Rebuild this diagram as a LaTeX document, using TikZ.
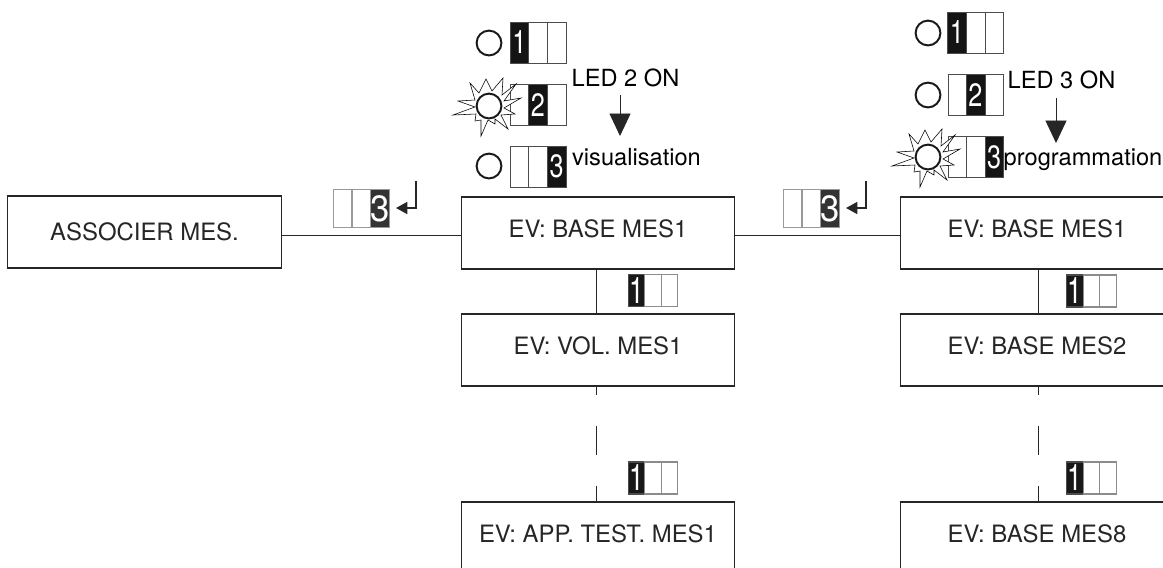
\documentclass[tikz,border=0pt]{standalone}
\usepackage{fontspec}
\setmainfont{TeX Gyre Heros}
\usepackage{tikz}
\usetikzlibrary{arrows.meta, calc}

% one row of three cells: name, y, centres, cell width, lit cell
\newcommand{\swcells}[7]{%
  \foreach \i/\cx in {1/#3,2/#4,3/#5} {
    \ifnum\i=#7
      \node (#1\i) [oncell, minimum width=#6] at (\cx, #2) {\scalebox{\digitx}[1]{\i}};
    \else
      \node (#1\i) [offcell, minimum width=#6] at (\cx, #2) {};
    \fi
  }%
}
\def\digitx{0.78}

\begin{document}
\begin{tikzpicture}[
  x=0.025cm, y=-0.025cm,
  line/.style={draw, black!85, line width=0.7pt},
  arrow/.style={line, -{Triangle[length=16pt, width=15pt]}},
  enter/.style={line, line width=1.1pt, -{Triangle[length=8pt, width=8.5pt]}},
  block/.style={draw, black!85, line width=0.8pt, rectangle, minimum width=6.83cm, minimum height=1.8cm, font=\fontsize{17}{20}\selectfont},
  lifted/.style={text depth=5.7pt},
  led/.style={draw, circle, line width=1.4pt, black!90, fill=white, minimum size=0.62cm, inner sep=0pt},
  offcell/.style={draw=black!70, fill=white, line width=0.5pt, minimum height=1.03cm, inner sep=0pt},
  oncell/.style={offcell, fill=black!92, text=white, font=\fontsize{23}{23}\selectfont},
  note/.style={anchor=base, font=\fontsize{16.8}{20}\selectfont, inner sep=0pt},
  enterkey/.style={offcell/.append style={draw=black!40, line width=0.9pt, minimum height=0.95cm}, oncell/.append style={fill=black!80, font=\fontsize{26}{26}\selectfont}},
  scrollkey/.style={offcell/.append style={draw=black!45, line width=0.8pt, minimum height=0.8cm}, oncell/.append style={draw=black!70, fill=black!90, font=\fontsize{26}{26}\selectfont}},
  burst/.pic={
    \draw[fill=white, line width=0.4pt] (-19,-23) -- (-10,-13) -- (-3,-27) -- (3,-15) -- (14,-28) -- (13,-11)
      -- (27,-22) -- (15,-5) -- (32,-8) -- (15,2) -- (26,8) -- (12,9) -- (19,23) -- (6,13) -- (6,18) -- (-1,14)
      -- (-8,30) -- (-8,14) -- (-14,15) -- (-13,8) -- (-36,9) -- (-14,1) -- (-31,-5) -- (-14,-6) -- cycle;
  }
]
  \useasboundingbox (0,0) rectangle (1163,567);

  % Menu boxes
  \node (assoc) [block] at (144.5, 232) {ASSOCIER MES.};
  \node (base) [block, lifted] at (598, 233) {EV: BASE MES1};
  \node (vol) [block, lifted] at (598, 350) {EV: VOL. MES1};
  \node (app) [block, lifted] at (598, 538) {EV: APP. TEST. MES1};
  \node (prog1) [block, lifted] at (1037, 233) {EV: BASE MES1};
  \node (prog2) [block, lifted] at (1037, 350) {EV: BASE MES2};
  \node (prog8) [block, lifted] at (1037, 538) {EV: BASE MES8};

  % Horizontal links
  \coordinate (linky) at (0, 235);
  \draw[line] (assoc.east |- linky) -- (base.west |- linky);
  \draw[line] (base.east |- linky) -- (prog1.west |- linky);

  % Vertical links, broken between the boxes
  \foreach \col/\a/\b/\c/\xx in {m/base/vol/app/596, r/prog1/prog2/prog8/1038} {
    \coordinate (\col g1) at (\xx, 395);
    \coordinate (\col g2) at (\xx, 426);
    \coordinate (\col g3) at (\xx, 455);
    \coordinate (\col g4) at (\xx, 486);
    \draw[line] (\a.south -| \col g1) -- (\b.north -| \col g1);
    \draw[line] (\b.south -| \col g1) -- (\col g1);
    \draw[line] (\col g2) -- (\col g3);
    \draw[line] (\col g4) -- (\c.north -| \col g4);
  }

  % Left panel
  \swcells{pa}{42.5}{519.3}{538}{556.7}{0.467cm}{1}
  \swcells{pb}{105}{520}{538}{556.7}{0.467cm}{2}
  \swcells{pc}{166.5}{519.3}{538}{556.7}{0.467cm}{3}
  \pic at (489, 106) {burst};
  \node (ledA) [led] at (489, 43) {};
  \node (ledB) [led] at (489, 106) {};
  \node (ledC) [led] at (489, 166) {};
  \node (ledtwo) [note] at (625.5, 86) {LED 2 ON};
  \node (vis) [note] at (636.5, 165) {visualisation};
  \coordinate (arrA) at (620, 95);
  \coordinate (arrB) at (620, 136);
  \draw[arrow] (arrA) -- (arrB);

  % Right panel
  \swcells{qa}{32.5}{956.8}{975.5}{994.2}{0.467cm}{1}
  \swcells{qb}{95}{957.5}{975.5}{994.2}{0.467cm}{2}
  \swcells{qc}{157}{957.5}{975.5}{994.2}{0.467cm}{3}
  \pic at (928, 157) {burst};
  \node (ledD) [led] at (928, 33) {};
  \node (ledE) [led] at (928, 95) {};
  \node (ledF) [led] at (928, 157) {};
  \node (ledthree) [note] at (1061.5, 88) {LED 3 ON};
  \node (progtxt) [note] at (1083, 165) {programmation};
  \coordinate (arrC) at (1056, 98);
  \coordinate (arrD) at (1056, 143);
  \draw[arrow] (arrC) -- (arrD);

  % Enter keys
  \begin{scope}[enterkey]
    \def\digitx{0.95}
    \swcells{ea}{208.5}{343}{361.5}{380}{0.47cm}{3}
    \swcells{eb}{208.5}{793}{811.5}{830}{0.47cm}{3}
  \end{scope}
  \coordinate (entA) at (416, 181);
  \coordinate (tipA) at (396, 208);
  \coordinate (entB) at (866, 181);
  \coordinate (tipB) at (846, 208);
  \draw[enter] (entA) |- (tipA);
  \draw[enter] (entB) |- (tipB);

  % Scroll keys
  \begin{scope}[scrollkey]
    \def\digitx{0.72}
    \swcells{ka}{290.5}{636.5}{653}{669.5}{0.41cm}{1}
    \swcells{kb}{478}{636.5}{653}{669.5}{0.41cm}{1}
    \swcells{kc}{291}{1075}{1091.5}{1108}{0.41cm}{1}
    \swcells{kd}{478}{1075}{1091.5}{1108}{0.41cm}{1}
  \end{scope}

\end{tikzpicture}
\end{document}
